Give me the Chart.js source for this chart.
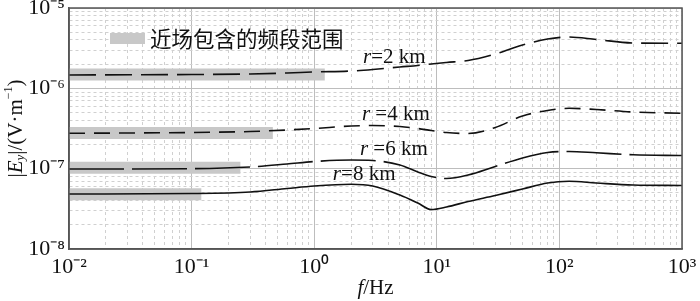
<!DOCTYPE html>
<html>
<head>
<meta charset="utf-8">
<script src="https://cdn.jsdelivr.net/npm/chart.js@4.4.1/dist/chart.umd.min.js"></script>
<style>
  html, body { margin: 0; padding: 0; background: #fff; }
  #wrap { width: 700px; height: 301px; }
</style>
</head>
<body>
<div id="wrap"><canvas id="my-Ey-Chart"></canvas></div>
<script>
// frequency axis (Hz) shared by all curves
const freqs = [0.01, 0.1, 0.3, 0.6, 1, 2, 3, 5, 7, 9, 12, 18, 30, 50, 80, 120, 200, 400, 1000];

// |Ey| in V/m
const ey2km = [1.466e-6, 1.486e-6, 1.508e-6, 1.552e-6, 1.597e-6, 1.643e-6, 1.715e-6, 1.843e-6, 1.924e-6, 2.009e-6, 2.098e-6, 2.221e-6, 2.676e-6, 3.462e-6, 4.112e-6, 4.355e-6, 4.054e-6, 3.667e-6, 3.636e-6];
const ey4km = [2.755e-7, 2.818e-7, 2.901e-7, 3.029e-7, 3.162e-7, 3.397e-7, 3.447e-7, 3.348e-7, 3.162e-7, 2.985e-7, 2.818e-7, 2.740e-7, 3.254e-7, 4.523e-7, 5.297e-7, 5.641e-7, 5.450e-7, 5.073e-7, 4.888e-7];
const ey6km = [9.90e-8, 9.99e-8, 1.049e-7, 1.143e-7, 1.228e-7, 1.282e-7, 1.264e-7, 1.110e-7, 9.09e-8, 7.99e-8, 7.54e-8, 8.34e-8, 1.064e-7, 1.358e-7, 1.589e-7, 1.635e-7, 1.575e-7, 1.488e-7, 1.458e-7];
const ey8km = [4.837e-8, 4.907e-8, 5.123e-8, 5.662e-8, 6.084e-8, 6.386e-8, 6.084e-8, 4.699e-8, 3.736e-8, 3.101e-8, 3.332e-8, 3.900e-8, 4.632e-8, 5.582e-8, 6.629e-8, 6.963e-8, 6.629e-8, 6.259e-8, 6.171e-8];

// near field band: upper frequency and level of each gray strip
const nearFieldEnd = [1.22, 0.46, 0.25, 0.12];
const nearFieldLevel = [1.49e-6, 2.78e-7, 1.03e-7, 4.81e-8];

// curve labels and where they sit (data units)
const seriesNames = ['r=2 km', 'r =4 km', 'r =6 km', 'r=8 km'];
const labelFreq = [2.5, 2.45, 2.36, 1.42];
const labelLevel = [2.45e-6, 4.79e-7, 1.71e-7, 8.58e-8];

// decade tick labels (exponents)
const xTickExps = [-2, -1, 0, 1, 2, 3];
const yTickExps = [-8, -7, -6, -5];

const legendText = '近场包含的频段范围';

const SERIF = '"Liberation Serif", "Times New Roman", serif';
const BAND_GRAY = '#c8c8c8';
const LINE_BLACK = '#111';

const supMap = {'-': '⁻', '0': '⁰', '1': '¹', '2': '²', '3': '³', '4': '⁴', '5': '⁵', '6': '⁶', '7': '⁷', '8': '⁸', '9': '⁹'};
function powLabel(exp) {
    return '10' + String(exp).split('').map(c => supMap[c]).join('');
}

// 1..9 x 10^e ticks, majors at the decades
function decadeTicks(exps) {
    const ticks = [];
    exps.forEach((e, i) => {
        for (let m = 1; m <= 9; m++) {
            if (i === exps.length - 1 && m > 1) break;
            ticks.push({ value: Number((m * Math.pow(10, e)).toPrecision(12)), major: m === 1 });
        }
    });
    return ticks;
}

function toPoints(ys) {
    return freqs.map((f, i) => ({ x: f, y: ys[i] }));
}

const curveValues = [ey2km, ey4km, ey6km, ey8km];
const dashes = [[27, 9], [16, 9], [55, 8], []];

const curveSets = curveValues.map((ys, i) => ({
    label: seriesNames[i],
    data: toPoints(ys),
    borderColor: LINE_BLACK,
    borderWidth: 1.6,
    borderDash: dashes[i],
    pointRadius: 0,
    cubicInterpolationMode: 'monotone',
    fill: false
}));

// gray strips go last so they are painted underneath
const bandSets = nearFieldEnd.map((end, i) => ({
    label: 'near ' + seriesNames[i],
    data: [{ x: freqs[0], y: nearFieldLevel[i] }, { x: end, y: nearFieldLevel[i] }],
    borderColor: BAND_GRAY,
    borderWidth: 12,
    borderCapStyle: 'butt',
    pointRadius: 0,
    fill: false
}));

// draw a run of [text, font, dy] pieces starting at x
function drawPieces(ctx, pieces, x, y) {
    pieces.forEach(p => {
        ctx.font = p[1];
        ctx.fillText(p[0], x, y + (p[2] || 0));
        x += ctx.measureText(p[0]).width;
    });
}
function piecesWidth(ctx, pieces) {
    let w = 0;
    pieces.forEach(p => { ctx.font = p[1]; w += ctx.measureText(p[0]).width; });
    return w;
}

const decorPlugin = {
    id: 'decor',
    afterDraw(chart) {
        const { ctx, chartArea: a, scales } = chart;
        ctx.save();

        // box around the plot
        ctx.strokeStyle = '#555';
        ctx.lineWidth = 1.5;
        ctx.strokeRect(a.left, a.top, a.right - a.left, a.bottom - a.top);

        ctx.fillStyle = '#111';
        ctx.textBaseline = 'middle';
        ctx.textAlign = 'left';

        // curve labels
        seriesNames.forEach((name, i) => {
            const px = scales.x.getPixelForValue(labelFreq[i]);
            const py = scales.y.getPixelForValue(labelLevel[i]);
            drawPieces(ctx, [
                [name.slice(0, 1), 'italic 21px ' + SERIF],
                [name.slice(1), '21px ' + SERIF]
            ], px, py);
        });

        // legend patch + text
        ctx.fillStyle = BAND_GRAY;
        ctx.fillRect(a.left + 41, a.top + 25, 35, 11);
        ctx.fillStyle = '#111';
        ctx.font = '21.5px "Noto Sans CJK SC", sans-serif';
        ctx.fillText(legendText, a.left + 81, a.top + 31);

        // x title: f/Hz
        const xt = [['f', 'italic 21px ' + SERIF], ['/Hz', '21px ' + SERIF]];
        const xw = piecesWidth(ctx, xt);
        drawPieces(ctx, xt, (a.left + a.right) / 2 - xw / 2, 288);

        // y title: |Ey|/(V·m^-1)
        const yt = [
            ['|', '21px ' + SERIF],
            ['E', 'italic 21px ' + SERIF],
            ['y', 'italic 13px ' + SERIF, 5],
            ['|/(V·m', '21px ' + SERIF],
            ['−1', '12px ' + SERIF, -7],
            [')', '21px ' + SERIF]
        ];
        const yw = piecesWidth(ctx, yt);
        ctx.translate(16, (a.top + a.bottom) / 2);
        ctx.rotate(-Math.PI / 2);
        drawPieces(ctx, yt, -yw / 2, 0);

        ctx.restore();
    }
};

function isMajorCtx(c) {
    return !!(c.tick && c.tick.major);
}

function tickLabel(value, index, ticks) {
    return ticks[index].major ? powLabel(Math.round(Math.log10(value))) : '';
}

function createEyChart() {
    const ctx = document.getElementById('my-Ey-Chart').getContext('2d');
    new Chart(ctx, {
        type: 'line',
        data: { datasets: curveSets.concat(bandSets) },
        options: {
            responsive: true,
            maintainAspectRatio: false,
            animation: false,
            layout: { padding: { top: 8, right: 18, left: 0, bottom: 0 } },
            plugins: {
                legend: { display: false },
                tooltip: { enabled: false }
            },
            scales: {
                x: {
                    type: 'logarithmic',
                    min: Math.pow(10, xTickExps[0]),
                    max: Math.pow(10, xTickExps[xTickExps.length - 1]),
                    afterBuildTicks: s => { s.ticks = decadeTicks(xTickExps); },
                    afterFit: s => { s.height = 52; s.paddingLeft = 0; s.paddingRight = 0; },
                    grid: {
                        drawTicks: false,
                        color: c => isMajorCtx(c) ? '#bdbdbd' : '#d0d0d0',
                        lineWidth: 1
                    },
                    border: { color: '#555', width: 1.5, dash: c => isMajorCtx(c) ? [] : [3, 3] },
                    ticks: {
                        autoSkip: false,
                        maxRotation: 0,
                        padding: 5,
                        color: '#111',
                        font: { family: SERIF, size: 22 },
                        callback: tickLabel
                    }
                },
                y: {
                    type: 'logarithmic',
                    min: Math.pow(10, yTickExps[0]),
                    max: Math.pow(10, yTickExps[yTickExps.length - 1]),
                    afterBuildTicks: s => { s.ticks = decadeTicks(yTickExps); },
                    afterFit: s => { s.width = 69; s.paddingTop = 0; s.paddingBottom = 0; },
                    grid: {
                        drawTicks: false,
                        color: c => isMajorCtx(c) ? '#bdbdbd' : '#d0d0d0',
                        lineWidth: 1
                    },
                    border: { color: '#555', width: 1.5, dash: c => isMajorCtx(c) ? [] : [3, 3] },
                    ticks: {
                        autoSkip: false,
                        padding: 4,
                        color: '#111',
                        font: { family: SERIF, size: 22 },
                        callback: tickLabel
                    }
                }
            }
        },
        plugins: [decorPlugin]
    });
}

createEyChart();
</script>
</body>
</html>
